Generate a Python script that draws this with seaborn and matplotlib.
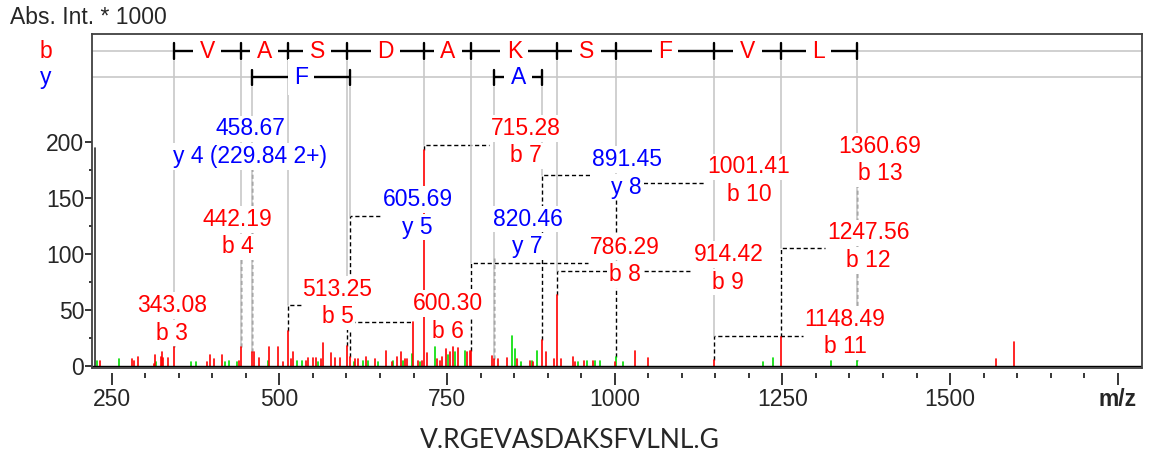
import numpy as np
import pandas as pd
import matplotlib
matplotlib.use("Agg")
import matplotlib.pyplot as plt
import seaborn as sns

# ---------------- data ----------------
# unannotated peaks (m/z, intensity *1000, colour class)
peak_mz = [225.2, 228.5, 232.6, 260.9, 279.8, 283.7, 288.8, 313.1, 315.0, 316.0, 323.0, 325.5, 327.0,
           334.4, 367.8, 375.2, 391.6, 396.6, 403.0, 414.0, 419.0, 424.4, 437.3, 439.3, 462.2, 469.6,
           482.6, 484.1, 497.5, 505.9, 517.3, 520.8, 526.7, 533.3, 539.7, 543.1, 550.6, 554.6, 558.0,
           561.6, 565.5, 576.5, 583.0, 590.4, 611.7, 613.2, 617.7, 625.1, 628.7, 632.6, 642.6, 647.6,
           659.0, 667.5, 669.9, 675.0, 681.4, 684.8, 687.3, 689.8, 697.5, 699.7, 707.2, 709.7, 712.2,
           719.7, 732.0, 734.6, 739.5, 742.0, 748.0, 751.9, 754.4, 759.3, 761.9, 766.8, 776.8, 780.2,
           784.2, 816.6, 826.5, 839.0, 847.4, 851.3, 853.9, 860.3, 873.7, 876.2, 878.6, 883.7, 897.1,
           909.5, 919.4, 937.3, 940.8, 945.7, 954.2, 959.2, 968.1, 970.6, 978.0, 1000.0, 1011.9,
           1030.2, 1049.2, 1221.6, 1236.5, 1322.0, 1568.5, 1595.3]
peak_int = [194, 4.5, 4.5, 5.7, 5.7, 4.5, 8, 1.5, 9.5, 3.6, 8, 12, 6.5,
            6.5, 3.6, 3.6, 3.6, 9.5, 5.7, 9.5, 3.6, 4.5, 3.6, 4.5, 12, 7,
            4.5, 16.4, 16.4, 3.6, 5.7, 12.5, 4.5, 4.5, 4.5, 6.5, 6.5, 6.5, 3.6,
            5.7, 20, 11, 6.5, 6.5, 3.6, 5.7, 5.7, 4.5, 8, 4.5, 5.7, 3.6,
            13.4, 3.6, 4.5, 8, 12, 4.5, 5.7, 5.7, 10.4, 39.3, 4.5, 3.6, 4.5,
            11, 16.4, 5.7, 4.5, 7.4, 14.6, 9.5, 12.5, 16.4, 12.5, 15.5, 13.4, 12.5,
            13.4, 8.6, 5.7, 6.5, 26.5, 14.6, 5.7, 3.6, 4.5, 4.5, 3.6, 13.4, 12.5,
            5.7, 5.7, 7.4, 3.6, 3.6, 4.5, 4.5, 4.5, 4.5, 4.5, 3.6, 3.6,
            13.4, 6.5, 3.6, 6.5, 4.5, 5.7, 20.8]
peak_kind = ["dark", "green", "red", "green", "red", "red", "red", "red", "red", "green", "red", "red", "red",
             "red", "green", "green", "red", "red", "red", "red", "green", "green", "green", "red", "red", "red",
             "green", "red", "red", "red", "red", "red", "green", "green", "red", "red", "red", "red", "green",
             "red", "red", "red", "red", "red", "green", "red", "red", "green", "red", "green", "red", "green",
             "red", "red", "green", "red", "red", "green", "red", "red", "green", "red", "red", "green", "red",
             "red", "green", "red", "red", "red", "red", "green", "red", "red", "green", "red", "green", "red",
             "red", "red", "red", "red", "green", "green", "red", "green", "red", "green", "red", "green", "red",
             "red", "red", "red", "red", "green", "red", "green", "red", "green", "green", "red", "green",
             "red", "red", "green", "green", "green", "red", "red"]

# annotated fragment peaks
ann_mz = [343.08, 442.19, 458.67, 513.25, 600.30, 605.69, 715.28, 786.29, 820.46, 891.45,
          914.42, 1001.41, 1148.49, 1247.56, 1360.69]
ann_int = [16.4, 16.4, 12.5, 31, 17.6, 8, 193, 13.4, 6, 23, 63, 7.4, 5, 25.9, 4.5]
ann_kind = ["red", "red", "red", "red", "red", "red", "red", "red", "red", "red",
            "red", "green", "red", "red", "green"]
ann_mass_text = ["343.08", "442.19", "458.67", "513.25", "600.30", "605.69", "715.28", "786.29",
                 "820.46", "891.45", "914.42", "1001.41", "1148.49", "1247.56", "1360.69"]
ann_ion_text = ["b 3", "b 4", "y 4 (229.84 2+)", "b 5", "b 6", "y 5", "b 7", "b 8", "y 7", "y 8",
                "b 9", "b 10", "b 11", "b 12", "b 13"]
ann_series = ["b", "b", "y", "b", "b", "y", "b", "b", "y", "y", "b", "b", "b", "b", "b"]
ann_label_x = [339.5, 438, 456.5, 586.8, 751.4, 706, 867.3, 1015.3, 870, 1018,
               1169.5, 1200, 1343.3, 1378.6, 1395.8]
ann_label_y = [41.4, 118.4, 199.2, 56, 43.2, 136.1, 199.7, 93.6, 118.7, 171.8,
               86.9, 165.2, 29.2, 106.3, 183.7]
ann_corner = [None, None, None, 54.2, 39.3, 133.7, 197, 91.4, None, 170.3,
              84.8, 163.4, 26.8, 104.8, None]

# sequence ladders
b_ladder_mz = [343.08, 442.19, 513.25, 600.30, 715.28, 786.29, 914.42, 1001.41, 1148.49, 1247.56, 1360.69]
b_ladder_res = ["V", "A", "S", "D", "A", "K", "S", "F", "V", "L"]
y_ladder_mz = [[458.67, 605.69], [820.46, 891.45]]
y_ladder_res = ["F", "A"]

x_ticks = [250, 500, 750, 1000, 1250, 1500, 1750]
x_tick_labels = ["250", "500", "750", "1000", "1250", "1500", "m/z"]
y_ticks = [0, 50, 100, 150, 200]
y_title = "Abs. Int. * 1000"
sequence = "V.RGEVASDAKSFVLNL.G"

# ---------------- style ----------------
sns.set_theme(style="white")
plt.rcParams["font.family"] = ["Liberation Sans", "DejaVu Sans"]
FS = 16.5
RED, BLUE, GREEN, GRAY = "#ff0000", "#0000ff", "#00dd00", "#c8c8c8"
series_col = {"b": RED, "y": BLUE}

fig = plt.figure(figsize=(11.51, 4.57), dpi=100)
W, H = 1151, 457
L, R, T, B = 92.3, 1142.3, 34, 367.5
ax = fig.add_axes([L / W, 1 - B / H, (R - L) / W, (B - T) / H])
ax.set_facecolor("white")
ax.set_xlim(221.1, 1786.6)
ax.set_ylim(-1.6, 296.2)

# ---------------- peaks via seaborn ----------------
all_mz = list(peak_mz) + list(ann_mz)
all_int = list(peak_int) + list(ann_int)
all_kind = list(peak_kind) + list(ann_kind)
rows = []
for i, (m, h, k) in enumerate(zip(all_mz, all_int, all_kind)):
    rows.append((i, m, 0.0, k))
    rows.append((i, m, h, k))
df = pd.DataFrame(rows, columns=["pid", "mz", "intensity", "kind"])
sns.lineplot(data=df, x="mz", y="intensity", hue="kind", units="pid", estimator=None,
             sort=False, palette={"red": RED, "green": GREEN, "dark": "#303030"},
             legend=False, linewidth=1.2, ax=ax, zorder=2)
ax.axhline(0, color="black", lw=1.0, zorder=2.5)

# ---------------- ladders ----------------
B_LEVEL, Y_LEVEL, TICK_H = 281.0, 257.5, 7.0
ax.axhline(B_LEVEL, color=GRAY, lw=1.2, zorder=0.5)
ax.axhline(Y_LEVEL, color=GRAY, lw=1.2, zorder=0.5)

def draw_ladder(mzs, residues, level, colr):
    ax.plot([mzs[0], mzs[-1]], [level, level], color="black", lw=1.7, zorder=3,
            solid_capstyle="butt")
    for m in mzs:
        ax.plot([m, m], [level - TICK_H, level + TICK_H], color="black", lw=1.7, zorder=3)
    for a, b_, r in zip(mzs[:-1], mzs[1:], residues):
        ax.text((a + b_) / 2, level, r, color=colr, fontsize=FS, ha="center", va="center",
                zorder=4, bbox=dict(boxstyle="square,pad=0.28", fc="white", ec="none"))

draw_ladder(b_ladder_mz, b_ladder_res, B_LEVEL, RED)
for pair, res in zip(y_ladder_mz, y_ladder_res):
    draw_ladder(pair, [res], Y_LEVEL, BLUE)

ax.text(-0.0446, B_LEVEL, "b", color=RED, fontsize=FS, ha="center", va="center",
        transform=ax.get_yaxis_transform())
ax.text(-0.0446, Y_LEVEL, "y", color=BLUE, fontsize=FS, ha="center", va="center",
        transform=ax.get_yaxis_transform())

# ---------------- annotation labels ----------------
HALF = 12.3  # half line spacing in data units
box = dict(boxstyle="square,pad=0.08", fc="white", ec="none")
label_pairs = []
for t1, t2, s, lx, ly in zip(ann_mass_text, ann_ion_text, ann_series, ann_label_x, ann_label_y):
    a = ax.text(lx, ly + HALF, t1, color=series_col[s], fontsize=FS, ha="center", va="center",
                zorder=5, bbox=box)
    b = ax.text(lx, ly - HALF, t2, color=series_col[s], fontsize=FS, ha="center", va="center",
                zorder=5, bbox=box)
    label_pairs.append((a, b))

fig.canvas.draw()
renderer = fig.canvas.get_renderer()
inv = ax.transData.inverted()

# ---------------- connectors ----------------
dash = (0, (3, 2))
for (a, b), m, h, s, lx, ly, c in zip(label_pairs, ann_mz, ann_int, ann_series,
                                      ann_label_x, ann_label_y, ann_corner):
    start = (B_LEVEL if s == "b" else Y_LEVEL) - 9
    ba = a.get_window_extent(renderer)
    bb = b.get_window_extent(renderer)
    left_px = min(ba.x0, bb.x0) - 2
    bottom_px = bb.y0
    left_x = inv.transform((left_px, 0))[0]
    bottom_y = inv.transform((0, bottom_px))[1]
    if c is None:
        ax.plot([m, m], [h, bottom_y], color="black", lw=1.0, ls=dash, zorder=1.0)
        ax.plot([m, m], [start, h], color=GRAY, lw=1.2, zorder=1.1)
    else:
        ax.plot([m, m, left_x], [h, c, c], color="black", lw=1.0, ls=dash, zorder=1.0)
        ax.plot([m, m], [start, c], color=GRAY, lw=1.2, zorder=1.1)

# ---------------- axes / ticks ----------------
for sp in ["top", "right", "left"]:
    ax.spines[sp].set_color("#404040")
    ax.spines[sp].set_linewidth(1.3)
    ax.spines[sp].set_zorder(10)
ax.spines["bottom"].set_position(("outward", 4))
ax.spines["bottom"].set_visible(False)
ax.plot([0, 1], [0, 0], transform=ax.transAxes, color="#404040", lw=1.3, clip_on=False, zorder=10)

ax.set_xticks(x_ticks)
ax.set_xticklabels(x_tick_labels)
ax.set_xticks(np.arange(250, 1751, 50), minor=True)
ax.set_yticks(y_ticks)
ax.set_yticklabels([str(v) for v in y_ticks])
ax.set_yticks([25, 75, 125, 175], minor=True)
ax.tick_params(axis="x", which="major", length=8.6, width=1.1, color="black", pad=2,
               labelsize=FS, bottom=True, direction="out")
ax.tick_params(axis="x", which="minor", length=3.6, width=1.1, color="black", bottom=True,
               direction="out")
ax.tick_params(axis="y", which="major", length=4.8, width=1.1, color="black", pad=1,
               labelsize=FS, left=True, direction="out")
ax.tick_params(axis="y", which="minor", length=2.4, width=1.1, color="black", left=True,
               direction="out")
ax.xaxis.get_majorticklabels()[-1].set_fontweight("bold")
ax.set_xlabel("")
ax.set_ylabel("")
ax.grid(False)

fig.text(10 / W, 1 - 18 / H, y_title, fontsize=FS, ha="left", va="center")
fig.text(570 / W, 1 - 440 / H, sequence, fontsize=19, ha="center", va="center",
         family=["Lato", "DejaVu Sans"])

fig.savefig("out.png", dpi=100)
